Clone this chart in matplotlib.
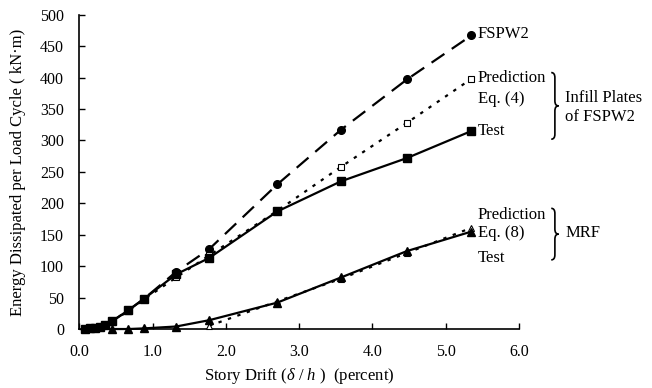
import matplotlib
matplotlib.use("Agg")
import matplotlib.pyplot as plt
from matplotlib.path import Path
from matplotlib.patches import PathPatch

plt.rcParams['font.family'] = ['Liberation Serif', 'DejaVu Serif']
plt.rcParams['mathtext.fontset'] = 'custom'
plt.rcParams['mathtext.rm'] = 'Liberation Serif'
plt.rcParams['mathtext.it'] = 'Liberation Serif:italic'

# Data
drift = [0.08, 0.14, 0.21, 0.28, 0.35, 0.44, 0.67, 0.88, 1.32, 1.77, 2.70, 3.57, 4.47, 5.35]
fspw2 = [0.5, 1, 2, 3, 6, 12, 30, 48, 91, 127, 230, 317, 397, 467]
infill_pred = [0.5, 1, 1.5, 3, 6, 11, 29, 47, 82, 117, 188, 258, 328, 398]
infill_test = [0.5, 1, 1.5, 3, 6, 12, 30, 48, 87, 113, 187, 235, 272, 315]

mrf_drift = [0.44, 0.67, 0.88, 1.32, 1.77, 2.70, 3.57, 4.47, 5.35]
mrf_test = [0, 0, 1, 4, 14, 42, 82, 124, 155]
mrf_pred_drift = [1.77, 2.70, 3.57, 4.47, 5.35]
mrf_pred = [5, 44, 80, 121, 161]

xticks = [0.0, 1.0, 2.0, 3.0, 4.0, 5.0, 6.0]
yticks = [0, 50, 100, 150, 200, 250, 300, 350, 400, 450, 500]

fig = plt.figure(figsize=(6.52, 3.88), dpi=100)
ax = fig.add_axes([0.1218, 0.152, 0.6742, 0.81])

lw = 1.6
ax.plot(drift, fspw2, color='black', lw=lw, dashes=(7, 4), marker='o', ms=5.5, clip_on=False, zorder=3)
ax.plot(drift, infill_pred, color='black', lw=lw, dashes=(1.5, 3), marker='s', ms=5, mfc='white', mew=0.8, clip_on=False, zorder=3)
ax.plot(drift, infill_test, color='black', lw=lw, ls='-', marker='s', ms=5.5, clip_on=False, zorder=4)
ax.plot(mrf_pred_drift, mrf_pred, color='black', lw=lw, dashes=(1.5, 3), marker='^', ms=5, mfc='white', mew=0.8, clip_on=False, zorder=3)
ax.plot(mrf_drift, mrf_test, color='black', lw=lw, ls='-', marker='^', ms=5.5, clip_on=False, zorder=4)

ax.set_xlim(0, 6)
ax.set_ylim(0, 500)
ax.set_xticks(xticks)
ax.set_xticklabels([f"{t:.1f}" for t in xticks])
ax.set_yticks(yticks)
ax.tick_params(direction='in', length=4, width=1, labelsize=11.5, pad=11)
for s in ['top', 'right']:
    ax.spines[s].set_visible(False)
for s in ['left', 'bottom']:
    ax.spines[s].set_linewidth(1.2)

ax.set_xlabel(r"Story Drift ($\delta$ / $h$ )  (percent)", fontsize=12, va='center')
ax.xaxis.set_label_coords(0.5, -0.148)
ax.set_ylabel("Energy Dissipated per Load Cycle ( kN·m)", fontsize=12, va='center')
ax.yaxis.set_label_coords(-0.14, 0.5)

fs = 12
tx = 5.44
ax.text(tx, 470, "FSPW2", fontsize=fs, va='center', ha='left')
ax.text(tx, 400, "Prediction", fontsize=fs, va='center', ha='left')
ax.text(tx, 366, "Eq. (4)", fontsize=fs, va='center', ha='left')
ax.text(tx, 315, "Test", fontsize=fs, va='center', ha='left')
ax.text(6.63, 368, "Infill Plates", fontsize=fs, va='center', ha='left')
ax.text(6.63, 337, "of FSPW2", fontsize=fs, va='center', ha='left')
ax.text(tx, 182, "Prediction", fontsize=fs, va='center', ha='left')
ax.text(tx, 153, "Eq. (8)", fontsize=fs, va='center', ha='left')
ax.text(tx, 113, "Test", fontsize=fs, va='center', ha='left')
ax.text(6.63, 153, "MRF", fontsize=fs, va='center', ha='left')


def brace(x0, ytop, ybot, w=0.05, r=8):
    ym = (ytop + ybot) / 2
    verts = [
        (x0, ytop), (x0 + w, ytop), (x0 + w, ytop - r),
        (x0 + w, ym + r),
        (x0 + w, ym), (x0 + 2 * w, ym),
        (x0 + w, ym), (x0 + w, ym - r),
        (x0 + w, ybot + r),
        (x0 + w, ybot), (x0, ybot),
    ]
    codes = [Path.MOVETO, Path.CURVE3, Path.CURVE3,
             Path.LINETO,
             Path.CURVE3, Path.CURVE3,
             Path.CURVE3, Path.CURVE3,
             Path.LINETO,
             Path.CURVE3, Path.CURVE3]
    p = PathPatch(Path(verts, codes), fill=False, lw=1.2, color='black', clip_on=False)
    ax.add_patch(p)


brace(6.44, 408, 302)
brace(6.44, 192, 110)

fig.savefig("out.png", dpi=100)
